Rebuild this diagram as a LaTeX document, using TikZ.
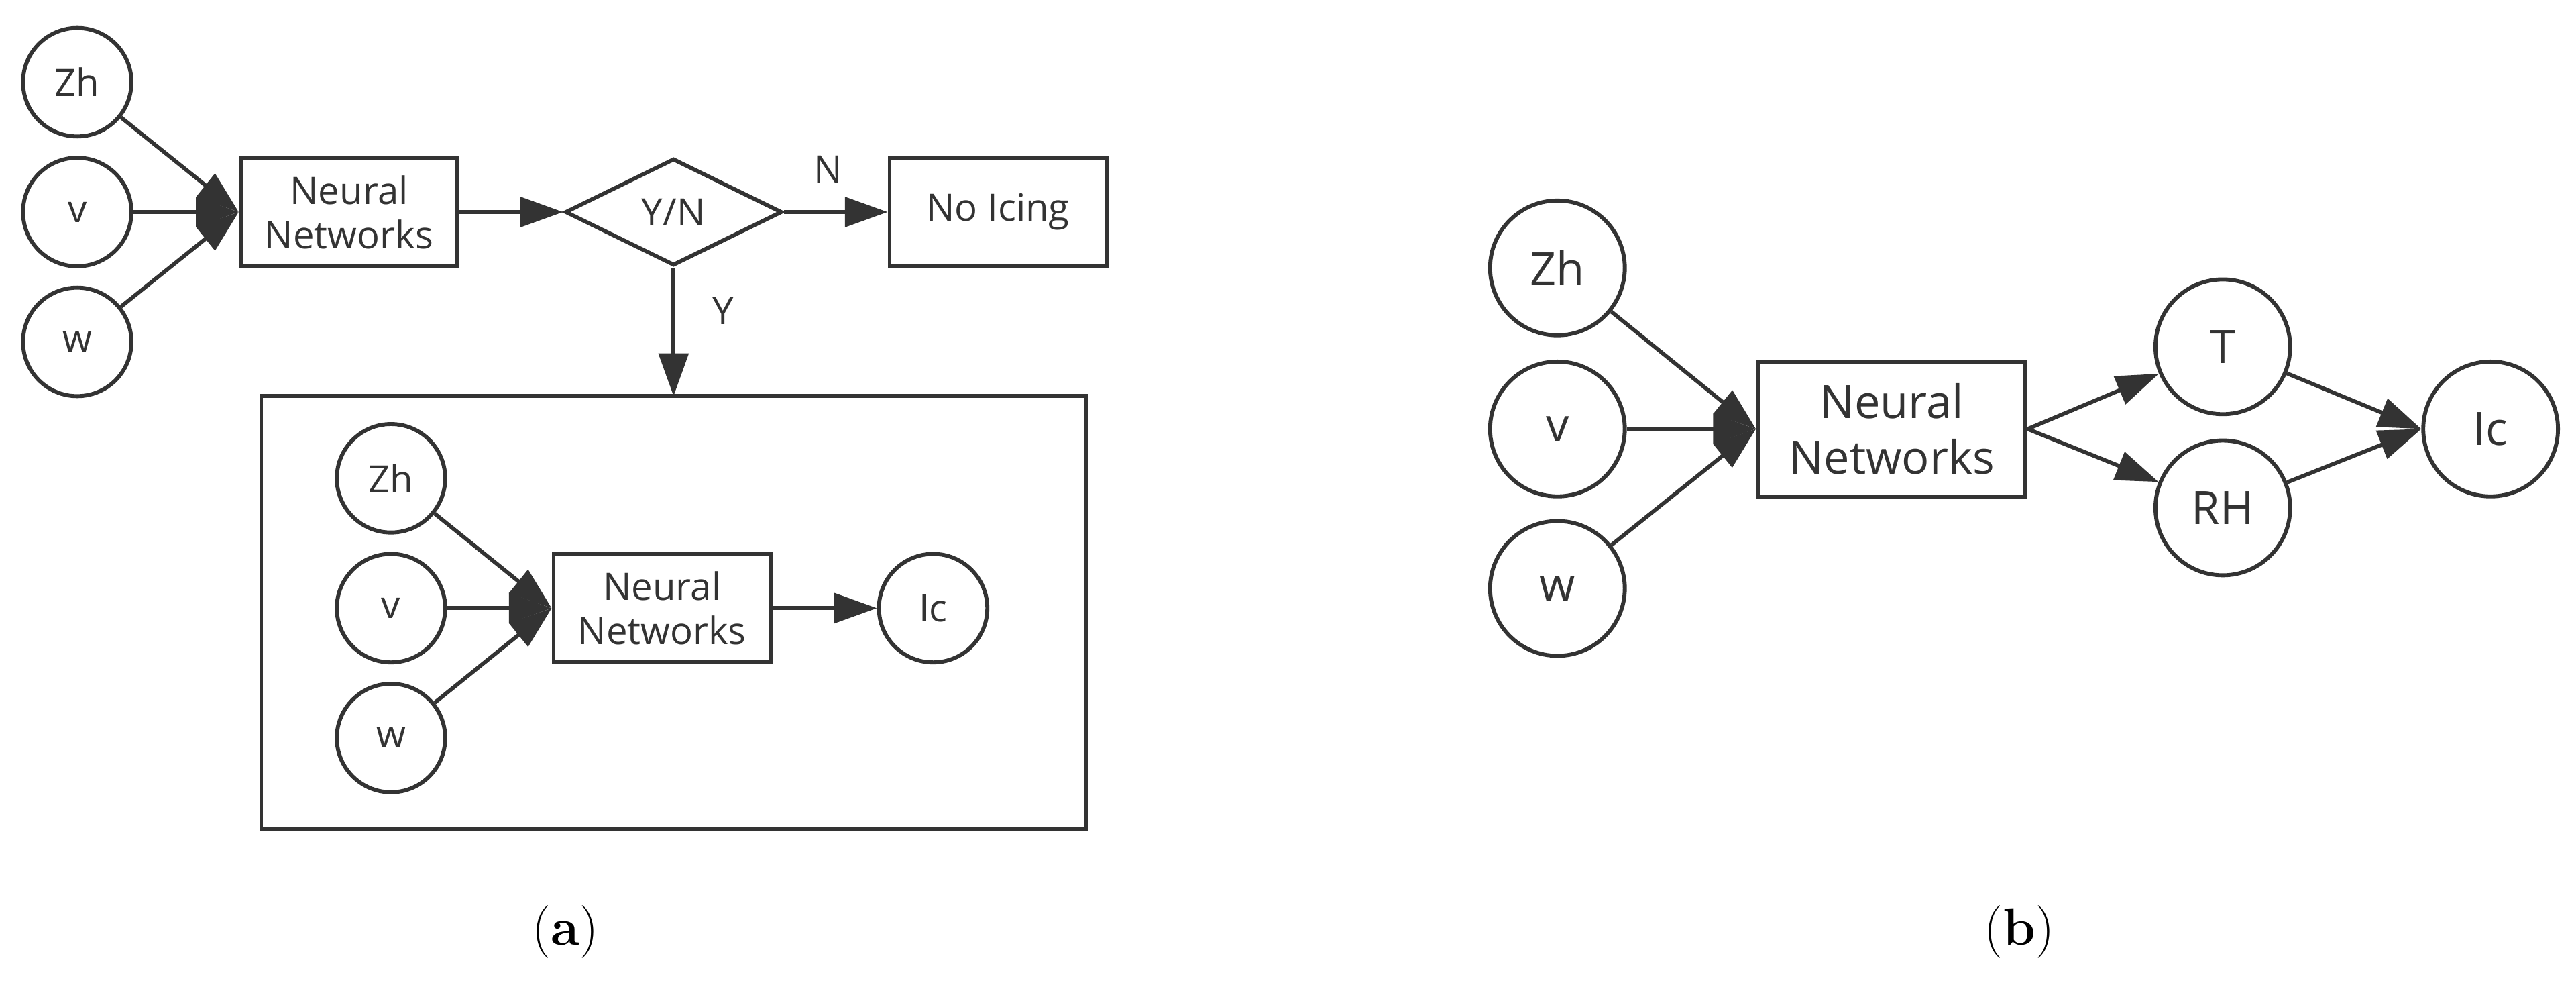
\documentclass[tikz,border=0pt]{standalone}
\usepackage{fontspec}
\setsansfont{Open Sans}
\usetikzlibrary{shapes.geometric,arrows.meta}
\definecolor{ln}{HTML}{333333}
\begin{document}
\begin{tikzpicture}[x=0.5pt,y=-0.5pt,
  every node/.style={font=\sffamily,text=ln},
  line/.style={draw=ln,line width=1.2pt},
  arr/.style={line,-{Triangle[length=13pt,width=9pt]}},
  fa/.style={font=\sffamily\fontsize{11.5}{13.5}\selectfont},
  fb/.style={font=\sffamily\fontsize{14}{17}\selectfont},
  ca/.style={circle,line,minimum size=33pt,inner sep=0pt,fa},
  cb/.style={circle,line,minimum size=41pt,inner sep=0pt,fb},
  ba/.style={rectangle,line,minimum width=66pt,minimum height=33pt,align=center,inner sep=0pt,fa},
  lab/.style={font=\rmfamily\fontsize{16}{18}\selectfont,text=black}]
\useasboundingbox (0,0) rectangle (1568,599);
% panel a
\node[ca] (zh) at (47,50) {Zh};
\node[ca] (v) at (47,129) {v};
\node[ca] (w) at (47,208) {w};
\node[ba] (nn) at (212.5,129) {Neural\\Networks};
\node[diamond,line,aspect=2,minimum width=66pt,minimum height=32.5pt,inner sep=0pt,fa] (d) at (410,129) {Y/N};
\node[ba] (ni) at (607.5,129) {No Icing};
\coordinate (nnw) at (nn.west);
\draw[arr] (zh) -- (nnw);
\draw[arr] (v) -- (nnw);
\draw[arr] (w) -- (nnw);
\draw[arr] (nn) -- (d);
\draw[arr] (d) -- (ni);
\node[fa] (nl) at (504,103) {N};
\node[rectangle,line,minimum width=251pt,minimum height=131.5pt,inner sep=0pt] (big) at (410,372.5) {};
\coordinate (bt) at (410,241);
\draw[arr] (d.south) -- (bt);
\node[fa] (yl) at (440,189) {Y};
\node[ca] (zh2) at (238,291) {Zh};
\node[ca] (v2) at (238,370) {v};
\node[ca] (w2) at (238,449) {w};
\node[ba] (nn2) at (403,370) {Neural\\Networks};
\node[ca] (ic) at (568,370) {Ic};
\coordinate (nn2w) at (nn2.west);
\draw[arr] (zh2) -- (nn2w);
\draw[arr] (v2) -- (nn2w);
\draw[arr] (w2) -- (nn2w);
\draw[arr] (nn2) -- (ic);
\node[lab] (la) at (344,567) {(\textbf{a})};
% panel b
\node[cb] (bzh) at (948,163) {Zh};
\node[cb] (bv) at (948,261) {v};
\node[cb] (bw) at (948,358) {w};
\node[rectangle,line,minimum width=81.5pt,minimum height=41pt,align=center,inner sep=0pt,fb] (bnn) at (1151.5,261) {Neural\\Networks};
\node[cb] (t) at (1353,211) {T};
\node[cb] (rh) at (1353,309) {RH};
\node[cb] (bic) at (1516,261) {Ic};
\coordinate (bnnw) at (bnn.west);
\coordinate (bnne) at (bnn.east);
\coordinate (bicw) at (bic.west);
\draw[arr] (bzh) -- (bnnw);
\draw[arr] (bv) -- (bnnw);
\draw[arr] (bw) -- (bnnw);
\draw[arr] (bnne) -- (t);
\draw[arr] (bnne) -- (rh);
\draw[arr] (t) -- (bicw);
\draw[arr] (rh) -- (bicw);
\node[lab] (lb) at (1229,567) {(\textbf{b})};
\end{tikzpicture}
\end{document}
